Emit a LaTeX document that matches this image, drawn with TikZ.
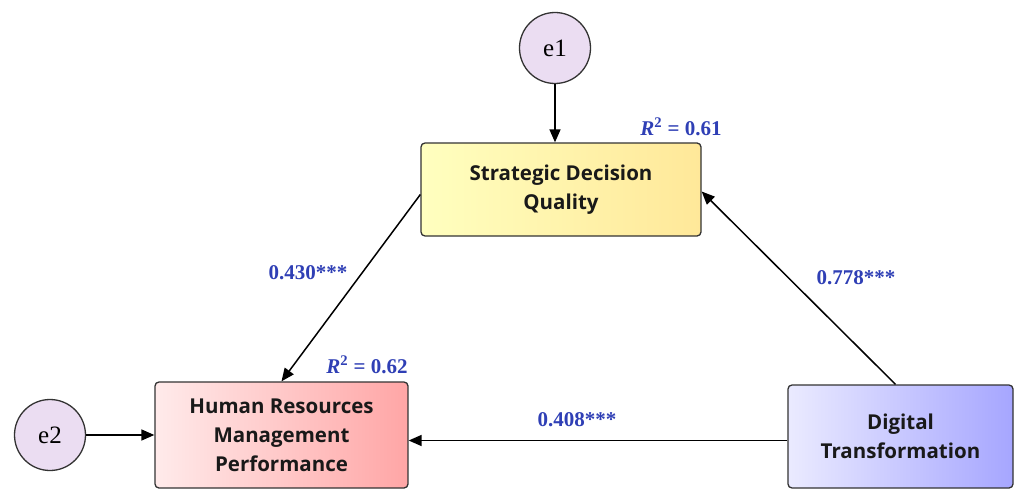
\documentclass[tikz,border=0pt]{standalone}
\usepackage{fontspec}
\setmainfont{Liberation Serif}
\setsansfont{Open Sans}
\usepackage{xcolor}
\usepackage{tikz}
\usetikzlibrary{arrows.meta}

\definecolor{lblblue}{HTML}{2F3FB5}
\definecolor{errfill}{HTML}{EBDDF2}
\tikzset{
  varbox/.style={draw=black!80,line width=1.3pt,rounded corners=4pt,align=center,
    font=\sffamily\bfseries\fontsize{20.5}{29}\selectfont,text=black!90},
  errcirc/.style={circle,draw=black!80,line width=1.3pt,fill=errfill,minimum size=71pt,
    inner sep=0pt,font=\fontsize{25}{25}\selectfont},
  arr/.style={line width=1.5pt,-{Triangle[length=13pt,width=11pt]}},
  lbl/.style={text=lblblue,font=\bfseries\fontsize{21}{21}\selectfont}
}

\begin{document}
\begin{tikzpicture}[x=1pt,y=1pt]
\useasboundingbox (0,0) rectangle (1035,491);
% constructs
\node[varbox,minimum width=280pt,minimum height=93pt,left color=yellow!25,right color=yellow!55!orange!40]
  (sdq) at (561,301.5) {Strategic Decision\\Quality};
\node[varbox,minimum width=253pt,minimum height=106pt,left color=red!8,right color=red!35]
  (hrm) at (281.5,56) {Human Resources\\Management\\Performance};
\node[varbox,minimum width=225pt,minimum height=103pt,left color=blue!8,right color=blue!35]
  (dt) at (900.5,54.5) {Digital\\Transformation};
% error terms
\node[errcirc] (e1) at (555,443) {e1};
\node[errcirc] (e2) at (50,56) {e2};
% paths
\draw[arr] (e1) -- (e1 |- sdq.north);
\draw[arr] (e2) -- (e2 -| hrm.west);
\draw[arr] ([yshift=-5pt]sdq.west) -- (hrm.north);
\draw[arr] ([xshift=-5pt]dt.north) -- ([yshift=-2pt]sdq.east);
\draw[arr] ([yshift=-4pt]dt.west) -- ([yshift=-4pt]dt.west -| hrm.east);
% coefficients
\node[lbl] (r1) at (681,364) {\textit{R}\textsuperscript{2} = 0.61};
\node[lbl] (r2) at (367,126) {\textit{R}\textsuperscript{2} = 0.62};
\node[lbl] (c1) at (308,218) {0.430***};
\node[lbl] (c2) at (856,213) {0.778***};
\node[lbl] (c3) at (577,71) {0.408***};
\end{tikzpicture}
\end{document}
